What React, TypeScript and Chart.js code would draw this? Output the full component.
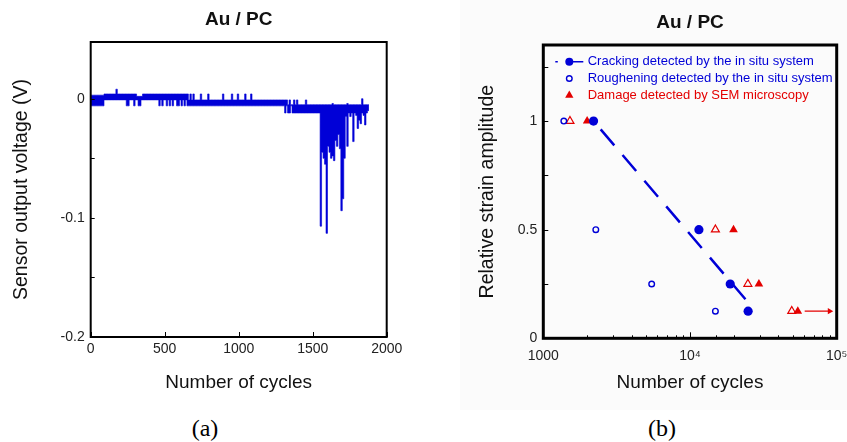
import React, { useEffect, useRef } from 'react';
import { Chart, registerables } from 'chart.js';

Chart.register(...registerables);

const FONT = '"Liberation Sans", Arial, Helvetica, sans-serif';
const BLUE = 'rgb(0, 0, 215)';
const RED = 'rgb(228, 0, 0)';
const INK = '#111';
const TICK_INK = '#222';

Chart.defaults.font.family = FONT;

// ---------------- Panel (a): sensor output vs cycles ----------------
const CYCLE_STEP = 10; // one bin every 10 cycles
// Upper / lower envelope of the recorded signal in each bin, in mV
const voltageHighMV = [
  3, 3, 3, 3, 3, 3, 3, 3, 3, 4,
  4, 4, 4, 4, 4, 4, 4, 8, 4, 4,
  4, 4, 4, 4, 4, 4, 4, 4, 4, 4,
  4, 2, 2, 2, 2, 4, 4, 4, 4, 4,
  4, 4, 4, 4, 4, 4, 4, 4, 4, 4,
  4, 4, 4, 4, 4, 4, 4, 4, 4, 4,
  4, 4, 4, 4, 4, 4, -1, 4, -1, 4,
  -1, -1, -1, -1, 4, -1, -1, -1, -1, 4,
  -1, -1, -1, -1, -1, -1, -1, -1, -1, 4,
  -1, -1, -1, -1, -1, 4, -1, -1, -1, 4,
  -1, -1, -1, -1, 4, -1, -1, -1, 4, -1,
  -1, -1, -1, -1, -1, -1, -1, -1, -1, -1,
  -1, -1, -1, -1, -1, -1, -1, -1, -1, -1,
  -1, -1, -1, -5, -1, -5, -5, -1, -5, -1,
  -5, -5, -5, -5, -5, -1, -5, -5, -5, -5,
  -5, -5, -5, -5, -5, -5, -5, -5, -5, -5,
  -5, -5, -5, -4, -5, -5, -5, -5, -5, -5,
  -5, -5, -5, -4, -5, -5, -5, -5, -5, -5,
  -5, -5, -5, 0, -5, -5, -5, -5,
];
const voltageLowMV = [
  -6, -6, -6, -6, -6, -6, -6, -6, -6, -1,
  -1, -1, -1, -1, -1, -1, -1, -1, -1, -1,
  -1, -1, -1, -1, -6, -6, -1, -1, -1, -6,
  -1, -1, -6, -6, -1, -1, -1, -1, -1, -1,
  -1, -1, -1, -1, -1, -1, -6, -1, -6, -1,
  -1, -6, -1, -6, -1, -6, -1, -1, -6, -6,
  -1, -6, -1, -6, -1, -6, -6, -6, -6, -6,
  -6, -6, -6, -6, -6, -6, -6, -6, -6, -6,
  -6, -6, -6, -6, -6, -6, -6, -6, -6, -6,
  -6, -6, -6, -6, -6, -6, -6, -6, -6, -6,
  -6, -6, -6, -6, -6, -6, -6, -6, -6, -6,
  -6, -6, -6, -6, -6, -6, -6, -6, -6, -6,
  -6, -6, -6, -6, -6, -6, -6, -6, -6, -6,
  -6, -12, -6, -12, -12, -6, -12, -12, -12, -12,
  -12, -12, -12, -12, -12, -12, -12, -12, -12, -12,
  -12, -12, -12, -12, -12, -107, -45, -50, -55, -113,
  -40, -45, -50, -48, -52, -35, -40, -30, -42, -94,
  -84, -50, -15, -40, -12, -15, -12, -36, -12, -14,
  -25, -18, -21, -12, -14, -22, -12, -10,
];
const cycleAxisA = [0, 2000];
const cycleStepA = 500;
const voltageAxis = [-0.2, 0.0476];
const voltageStep = 0.05;
const voltageLabelValues = [0, -0.1, -0.2];

// ---------------- Panel (b): strain amplitude vs cycles ----------------
const crackingCycles = [2200, 11500, 18800, 24900];
const crackingStrain = [1, 0.5, 0.25, 0.125];
const rougheningCycles = [1380, 2280, 5480, 14900];
const rougheningStrain = [1, 0.5, 0.25, 0.125];
const semDamageCycles = [1990, 19800, 29500, 54300];
const semDamageStrain = [1, 0.5, 0.25, 0.125];
const semOpenCycles = [1520, 14900, 24800, 49400];
const semOpenStrain = [1, 0.5, 0.25, 0.125];
const fitCycles = [2200, 24200];
const fitStrain = [1, 0.175];
const arrowCycles = [60500, 89500];
const arrowStrain = [0.125, 0.125];
const cycleAxisB = [1000, 100000];
const strainAxis = [0, 1.35];
const strainStep = 0.25;
const strainLabelValues = [0, 0.5, 1];
const logTickLabels: Record<number, string> = { 1000: '1000', 10000: '10\u2074', 100000: '10\u2075' };
const legendLabels = [
  'Cracking detected by the in situ system',
  'Roughening detected by the in situ system',
  'Damage detected by SEM microscopy',
];
const legendColors = [BLUE, BLUE, RED];

const pts = (xs: number[], ys: number[]) => xs.map((x, i) => ({ x, y: ys[i] }));

function framePlugin(frameWidth: number, xLen: (v: number) => number, yLen: (v: number) => number) {
  return {
    id: 'frameTicks',
    afterDatasetsDraw(chart: any) {
      const { ctx, chartArea: a, scales } = chart;
      ctx.save();
      ctx.strokeStyle = '#000';
      ctx.lineWidth = 1;
      const xs = scales.x;
      xs.ticks.forEach((t: any) => {
        const px = Math.round(xs.getPixelForValue(t.value)) + 0.5;
        const len = xLen(t.value);
        if (!len) return;
        ctx.beginPath();
        ctx.moveTo(px, a.bottom);
        ctx.lineTo(px, a.bottom - len);
        ctx.stroke();
      });
      const ys = scales.y;
      ys.ticks.forEach((t: any) => {
        const py = Math.round(ys.getPixelForValue(t.value)) + 0.5;
        const len = yLen(t.value);
        if (!len) return;
        ctx.beginPath();
        ctx.moveTo(a.left, py);
        ctx.lineTo(a.left + len, py);
        ctx.stroke();
      });
      ctx.lineWidth = frameWidth;
      ctx.strokeRect(a.left, a.top, a.right - a.left, a.bottom - a.top);
      ctx.restore();
    },
  };
}

const legendPlugin = {
  id: 'strainLegend',
  afterDraw(chart: any) {
    const { ctx, chartArea: a } = chart;
    ctx.save();
    const mx = a.left + 26;
    const tx = a.left + 44.4;
    legendLabels.forEach((label, i) => {
      const y = a.top + 16.7 + i * 16.8;
      const c = legendColors[i];
      ctx.fillStyle = c;
      ctx.strokeStyle = c;
      if (i === 0) {
        ctx.lineWidth = 1.5;
        ctx.beginPath();
        ctx.moveTo(a.left + 12, y);
        ctx.lineTo(a.left + 14.5, y);
        ctx.moveTo(mx, y);
        ctx.lineTo(mx + 14, y);
        ctx.stroke();
        ctx.beginPath();
        ctx.arc(mx, y, 4, 0, Math.PI * 2);
        ctx.fill();
      } else if (i === 1) {
        ctx.lineWidth = 1.4;
        ctx.beginPath();
        ctx.arc(mx, y, 2.8, 0, Math.PI * 2);
        ctx.stroke();
      } else {
        const r = 4.8;
        ctx.beginPath();
        ctx.moveTo(mx, y - r);
        ctx.lineTo(mx + r * 0.866, y + r / 2);
        ctx.lineTo(mx - r * 0.866, y + r / 2);
        ctx.closePath();
        ctx.fill();
      }
      ctx.font = `13px ${FONT}`;
      ctx.textBaseline = 'middle';
      ctx.textAlign = 'left';
      ctx.fillText(label, tx, y);
    });
    ctx.restore();
  },
};

const near = (v: number, list: number[]) => list.find((l) => Math.abs(l - v) < 1e-6);

// Each bin's value holds from its start cycle to the next bin; a closing point ends the last bin.
function binned(values: number[]) {
  const out = values.map((mv, i) => ({ x: i * CYCLE_STEP, y: mv / 1000 }));
  out.push({ x: values.length * CYCLE_STEP, y: values[values.length - 1] / 1000 });
  return out;
}

function buildA(): any {
  return {
    type: 'scatter',
    data: {
      datasets: [
        {
          label: 'upper',
          data: binned(voltageHighMV),
          showLine: true,
          stepped: true,
          borderColor: BLUE,
          borderWidth: 0.6,
          pointRadius: 0,
          fill: false,
        },
        {
          label: 'lower',
          data: binned(voltageLowMV),
          showLine: true,
          stepped: true,
          borderColor: BLUE,
          borderWidth: 0.6,
          backgroundColor: BLUE,
          pointRadius: 0,
          fill: '-1',
        },
      ],
    },
    options: {
      responsive: false,
      animation: false,
      events: [],
      layout: { padding: { left: 0, right: 33.3, top: 0, bottom: 0 } },
      plugins: {
        legend: { display: false },
        tooltip: { enabled: false },
        title: {
          display: true,
          text: 'Au / PC',
          fullSize: false,
          color: INK,
          font: { family: FONT, size: 19, weight: 'bold' },
          padding: { top: 8.6, bottom: 10.6 },
        },
      },
      scales: {
        x: {
          type: 'linear',
          min: cycleAxisA[0],
          max: cycleAxisA[1],
          grid: { display: false, drawTicks: false },
          border: { display: false },
          ticks: {
            stepSize: cycleStepA,
            padding: 4,
            autoSkip: false,
            maxRotation: 0,
            color: TICK_INK,
            font: { family: FONT, size: 14 },
            callback: (v: any) => String(v),
          },
          title: {
            display: true,
            text: 'Number of cycles',
            color: INK,
            font: { family: FONT, size: 19 },
            padding: { top: 0, bottom: 5.6 },
          },
          afterFit: (s: any) => {
            s.height = 63;
            s.paddingLeft = 0;
            s.paddingRight = 0;
          },
        },
        y: {
          type: 'linear',
          min: voltageAxis[0],
          max: voltageAxis[1],
          grid: { display: false, drawTicks: false },
          border: { display: false },
          ticks: {
            stepSize: voltageStep,
            includeBounds: false,
            padding: 6,
            autoSkip: false,
            color: TICK_INK,
            font: { family: FONT, size: 14 },
            callback: (v: any) => {
              const l = near(Number(v), voltageLabelValues);
              return l === undefined ? '' : l === 0 ? '0' : String(l);
            },
          },
          title: {
            display: true,
            text: 'Sensor output voltage (V)',
            color: INK,
            font: { family: FONT, size: 19.5 },
            padding: { top: 10.3, bottom: 0 },
          },
          afterFit: (s: any) => {
            s.width = 90.7;
            s.paddingTop = 0;
            s.paddingBottom = 0;
          },
        },
      },
    },
    plugins: [framePlugin(2, () => 5, () => 4)],
  };
}

function buildB(): any {
  return {
    type: 'scatter',
    data: {
      datasets: [
        {
          data: pts(crackingCycles, crackingStrain),
          pointStyle: 'circle',
          pointRadius: 4.6,
          pointBackgroundColor: BLUE,
          pointBorderColor: BLUE,
          pointBorderWidth: 0,
        },
        {
          data: pts(rougheningCycles, rougheningStrain),
          pointStyle: 'circle',
          pointRadius: 2.8,
          pointBackgroundColor: 'rgba(0,0,0,0)',
          pointBorderColor: BLUE,
          pointBorderWidth: 1.4,
        },
        {
          data: pts(semDamageCycles, semDamageStrain),
          pointStyle: 'triangle',
          pointRadius: 5,
          pointBackgroundColor: RED,
          pointBorderColor: RED,
          pointBorderWidth: 0,
        },
        {
          data: pts(semOpenCycles, semOpenStrain),
          pointStyle: 'triangle',
          pointRadius: 4.6,
          pointBackgroundColor: 'rgba(255,255,255,0)',
          pointBorderColor: RED,
          pointBorderWidth: 1.2,
        },
        {
          data: pts(arrowCycles, arrowStrain),
          showLine: true,
          borderColor: RED,
          borderWidth: 1.2,
          pointStyle: 'triangle',
          pointRotation: 90,
          pointRadius: [0, 3.6],
          pointBackgroundColor: RED,
          pointBorderColor: RED,
          pointBorderWidth: 0,
        },
        {
          data: pts(fitCycles, fitStrain),
          showLine: true,
          borderColor: BLUE,
          borderWidth: 2.5,
          borderDash: [21, 12.7],
          borderDashOffset: 22.7,
          pointRadius: 0,
        },
      ],
    },
    options: {
      responsive: false,
      animation: false,
      events: [],
      layout: { padding: { left: 0, right: 10.3, top: 0, bottom: 0 } },
      plugins: {
        legend: { display: false },
        tooltip: { enabled: false },
        title: {
          display: true,
          text: 'Au / PC',
          fullSize: false,
          color: INK,
          font: { family: FONT, size: 19, weight: 'bold' },
          padding: { top: 11.6, bottom: 10.6 },
        },
      },
      scales: {
        x: {
          type: 'logarithmic',
          min: cycleAxisB[0],
          max: cycleAxisB[1],
          grid: { display: false, drawTicks: false },
          border: { display: false },
          ticks: {
            padding: 9,
            autoSkip: false,
            maxRotation: 0,
            color: TICK_INK,
            font: { family: FONT, size: 14 },
            callback: (v: any) => logTickLabels[Math.round(Number(v))] ?? '',
          },
          title: {
            display: true,
            text: 'Number of cycles',
            color: INK,
            font: { family: FONT, size: 19 },
            padding: { top: 0, bottom: 5.6 },
          },
          afterFit: (s: any) => {
            s.height = 61.7;
            s.paddingLeft = 0;
            s.paddingRight = 0;
          },
        },
        y: {
          type: 'linear',
          min: strainAxis[0],
          max: strainAxis[1],
          grid: { display: false, drawTicks: false },
          border: { display: false },
          ticks: {
            stepSize: strainStep,
            includeBounds: false,
            padding: 6,
            autoSkip: false,
            color: TICK_INK,
            font: { family: FONT, size: 14 },
            callback: (v: any) => {
              const l = near(Number(v), strainLabelValues);
              return l === undefined ? '' : String(l);
            },
          },
          title: {
            display: true,
            text: 'Relative strain amplitude',
            color: INK,
            font: { family: FONT, size: 19.5 },
            padding: { top: 46.3, bottom: 0 },
          },
          afterFit: (s: any) => {
            s.width = 113.3;
            s.paddingTop = 0;
            s.paddingBottom = 0;
          },
        },
      },
    },
    plugins: [
      framePlugin(
        3,
        (v) => {
          const e = Math.log10(v);
          return Math.abs(e - Math.round(e)) < 1e-6 ? 6 : 3;
        },
        () => 5,
      ),
      legendPlugin,
    ],
  };
}

function ChartCanvas({ left, width, height, build }: { left: number; width: number; height: number; build: () => any }) {
  const ref = useRef<HTMLCanvasElement>(null);
  useEffect(() => {
    const chart = new Chart(ref.current as HTMLCanvasElement, build());
    return () => chart.destroy();
  }, []);
  return (
    <canvas
      ref={ref}
      width={width}
      height={height}
      style={{ position: 'absolute', left, top: 0, width, height, display: 'block' }}
    />
  );
}

const captionStyle: React.CSSProperties = {
  position: 'absolute',
  top: 416,
  width: 100,
  textAlign: 'center',
  fontFamily: '"Liberation Serif", "Times New Roman", serif',
  fontSize: 24,
  lineHeight: '24px',
  color: '#000',
};

export default function App() {
  return (
    <div
      style={{
        position: 'fixed',
        left: 0,
        top: 0,
        width: 847,
        height: 442,
        overflow: 'hidden',
        background: '#fff',
      }}
    >
      <div style={{ position: 'absolute', left: 460, top: 0, width: 387, height: 410, background: '#fbfbfb' }} />
      <ChartCanvas left={0} width={420} height={400} build={buildA} />
      <ChartCanvas left={430} width={417} height={400} build={buildB} />
      <div style={{ ...captionStyle, left: 155 }}>(a)</div>
      <div style={{ ...captionStyle, left: 612 }}>(b)</div>
    </div>
  );
}
